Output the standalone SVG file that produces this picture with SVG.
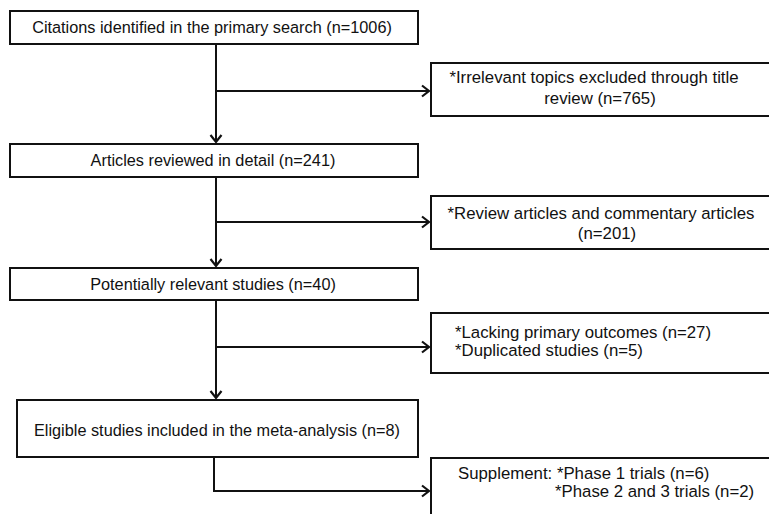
<svg xmlns="http://www.w3.org/2000/svg" width="769" height="514" viewBox="0 0 769 514">
<style>
.box{fill:#fff;stroke:#111;stroke-width:2}
.t{font-family:"Liberation Sans",Arial,sans-serif;font-size:16.3px;fill:#111}
.r{font-size:16.8px}
.c{text-anchor:middle}
.ln{fill:none;stroke:#111;stroke-width:2}
</style>
<defs>
<marker id="arr" markerUnits="userSpaceOnUse" markerWidth="14" markerHeight="14" refX="11" refY="7" orient="auto">
<path d="M4,1.5 L11,7 L4,12.5" fill="none" stroke="#111" stroke-width="2.2"/>
</marker>
</defs>
<rect width="769" height="514" fill="#fff"/>
<g id="connectors">
<path class="ln" d="M216,45 V142" marker-end="url(#arr)"/>
<path class="ln" d="M216,91 H429" marker-end="url(#arr)"/>
<path class="ln" d="M216,177 V266" marker-end="url(#arr)"/>
<path class="ln" d="M216,222 H429" marker-end="url(#arr)"/>
<path class="ln" d="M216,300 V398" marker-end="url(#arr)"/>
<path class="ln" d="M216,347 H429" marker-end="url(#arr)"/>
<path class="ln" d="M214,458 V491 H429" marker-end="url(#arr)"/>
</g>
<g id="n1">
<rect class="box" x="10" y="11" width="408" height="33"/>
<text class="t c" x="212" y="33">Citations identified in the primary search (n=1006)</text>
</g>
<g id="n2">
<rect class="box" x="431" y="63" width="345" height="53"/>
<text class="t r c" x="594" y="83">*Irrelevant topics excluded through title</text>
<text class="t r c" x="600" y="104">review (n=765)</text>
</g>
<g id="n3">
<rect class="box" x="10" y="144" width="408" height="33"/>
<text class="t c" x="213" y="166">Articles reviewed in detail (n=241)</text>
</g>
<g id="n4">
<rect class="box" x="431" y="196" width="345" height="53"/>
<text class="t r c" x="601" y="219">*Review articles and commentary articles</text>
<text class="t r c" x="607" y="239">(n=201)</text>
</g>
<g id="n5">
<rect class="box" x="10" y="268" width="408" height="32"/>
<text class="t c" x="213" y="290">Potentially relevant studies (n=40)</text>
</g>
<g id="n6">
<rect class="box" x="431" y="313" width="345" height="60"/>
<text class="t r" x="455" y="338">*Lacking primary outcomes (n=27)</text>
<text class="t r" x="455" y="356">*Duplicated studies (n=5)</text>
</g>
<g id="n7">
<rect class="box" x="17" y="400" width="401" height="57"/>
<text class="t c" x="217" y="436">Eligible studies included in the meta-analysis (n=8)</text>
</g>
<g id="n8">
<rect class="box" x="431" y="458" width="345" height="70"/>
<text class="t r" x="458" y="479">Supplement: *Phase 1 trials (n=6)</text>
<text class="t r" x="555" y="497">*Phase 2 and 3 trials (n=2)</text>
</g>
</svg>
